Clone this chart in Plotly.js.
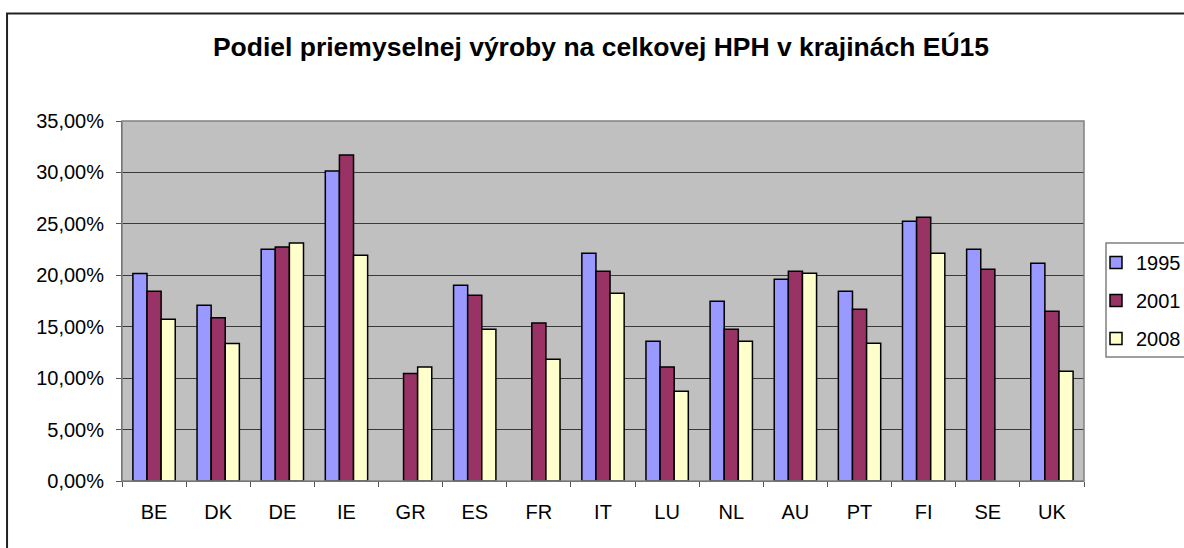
<!DOCTYPE html>
<html>
<head>
<meta charset="utf-8">
<script src="https://cdn.plot.ly/plotly-3.0.1.min.js"></script>
<style>
html,body{margin:0;padding:0;background:#fff;}
#chart{width:1184px;height:548px;}
</style>
</head>
<body>
<div id="chart"></div>
<script>
const categories = ["BE","DK","DE","IE","GR","ES","FR","IT","LU","NL","AU","PT","FI","SE","UK"];
const seriesNames = ["1995","2001","2008"];
const v1995 = [20.17,17.08,22.53,30.14,null,19.03,null,22.14,13.58,17.47,19.61,18.44,25.25,22.53,21.17];
const v2001 = [18.44,15.88,22.75,31.70,10.44,18.05,15.36,20.39,11.08,14.75,20.39,16.69,25.64,20.58,16.50];
const v2008 = [15.72,13.36,23.14,21.94,11.08,14.75,11.83,18.25,8.72,13.58,20.19,13.39,22.14,null,10.67];
const yTicks = [0,5,10,15,20,25,30,35];
const yTickText = yTicks.map(v => v.toFixed(2).replace(".", ",") + "%");

const colors = ["#9999FF","#993366","#FFFFCC"];
const values = [v1995, v2001, v2008];

const traces = values.map((vals, i) => ({
  type: "bar",
  name: seriesNames[i],
  legendgroup: "g" + i,
  x: categories,
  y: vals,
  marker: {color: colors[i], line: {color: "#000000", width: 1.5}},
  hoverinfo: "x+y+name"
}));

const font = {family: "Liberation Sans, Arial, sans-serif", size: 20, color: "#000"};

const layout = {
  width: 1184,
  height: 548,
  margin: {l: 122, r: 100, t: 121, b: 67, pad: 0, autoexpand: false},
  paper_bgcolor: "#ffffff",
  plot_bgcolor: "#C0C0C0",
  separators: ", ",
  font: font,
  title: {
    text: "<b>Podiel priemyselnej výroby na celkovej HPH v krajinách EÚ15</b>",
    font: {family: "Liberation Sans, Arial, sans-serif", size: 26.5, color: "#000"},
    xref: "container", yref: "container",
    x: 0.5076, y: 0.914, xanchor: "center", yanchor: "middle"
  },
  barmode: "group",
  bargap: 0.34,
  bargroupgap: 0,
  xaxis: {
    type: "category",
    showgrid: false,
    showline: true,
    linecolor: "#555555",
    linewidth: 1,
    ticks: "outside",
    tickson: "boundaries",
    ticklen: 5,
    tickcolor: "#555555",
    ticklabelstandoff: 13,
    tickfont: font
  },
  yaxis: {
    range: [0, 35],
    tickvals: yTicks,
    ticktext: yTickText,
    showgrid: true,
    gridcolor: "#3a3a3a",
    gridwidth: 1,
    zeroline: false,
    showline: true,
    linecolor: "#555555",
    linewidth: 1,
    ticks: "outside",
    ticklen: 5,
    tickcolor: "#555555",
    ticklabelstandoff: 8,
    tickfont: font
  },
  legend: {
    xref: "container", yref: "container",
    x: 1096 / 1184, y: 1 - 243 / 548, xanchor: "left", yanchor: "top",
    bgcolor: "rgba(0,0,0,0)",
    borderwidth: 0,
    font: font,
    itemwidth: 30,
    traceorder: "grouped",
    tracegroupgap: 9
  },
  showlegend: true,
  shapes: [
    {type: "rect", xref: "paper", yref: "paper", x0: 0, x1: 1, y0: 0, y1: 1,
     line: {color: "#808080", width: 1.5}, fillcolor: "rgba(0,0,0,0)", layer: "above"},
    {type: "rect", xref: "paper", yref: "paper", x0: -0.1195, x1: 1.12, y0: -0.22, y1: 1.2986,
     line: {color: "#222222", width: 2}, fillcolor: "rgba(0,0,0,0)"},
    {type: "rect", xref: "paper", yref: "paper",
     x0: (1106 - 122) / 962, x1: (1200 - 122) / 962,
     y0: (481 - 357) / 360, y1: (481 - 243) / 360,
     line: {color: "#808080", width: 1.5}, fillcolor: "#ffffff", layer: "below"}
  ]
};

Plotly.newPlot("chart", traces, layout, {displayModeBar: false, staticPlot: true});
</script>
</body>
</html>
